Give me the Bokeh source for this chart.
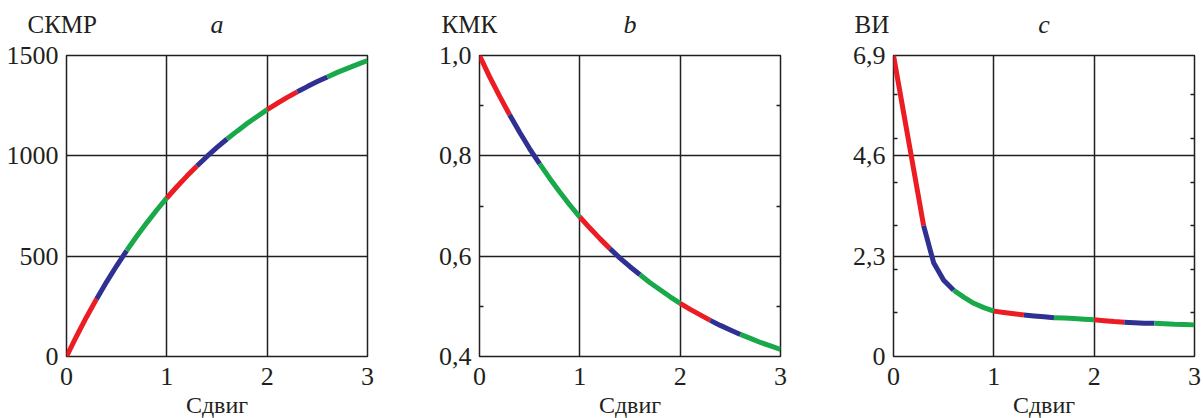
from bokeh.plotting import figure
from bokeh.layouts import row, column
from bokeh.models import FixedTicker, Range1d, Label, LinearAxis
from bokeh.embed import file_html
from bokeh.resources import INLINE

# ---- data ----
shift = [round(i * 0.1, 1) for i in range(31)]

ckmr = [0, 101, 197, 287, 372, 452, 528, 599, 666, 730,
        790, 846, 899, 949, 997, 1042, 1084, 1123, 1161, 1196,
        1230, 1261, 1291, 1319, 1345, 1370, 1393, 1416, 1436, 1456, 1475]

kmk = [1.000, 0.958, 0.919, 0.882, 0.847, 0.814, 0.784, 0.755, 0.728, 0.702,
       0.678, 0.656, 0.635, 0.615, 0.596, 0.579, 0.563, 0.547, 0.533, 0.519,
       0.506, 0.494, 0.483, 0.472, 0.462, 0.453, 0.444, 0.436, 0.428, 0.421, 0.414]

vi = [6.9, 5.6, 4.3, 3.0, 2.15, 1.75, 1.52, 1.36, 1.22, 1.12,
      1.04, 1.01, 0.98, 0.95, 0.93, 0.91, 0.89, 0.88, 0.87, 0.855,
      0.84, 0.82, 0.80, 0.785, 0.775, 0.765, 0.76, 0.75, 0.74, 0.735, 0.725]

segment_edges = [0.0, 0.3, 0.6, 1.0, 1.3, 1.6, 2.0, 2.3, 2.6, 3.0]
segment_colors = ["#ec1c24", "#2e3192", "#19a94a"] * 3

x_ticks = [0, 1, 2, 3]
x_tick_labels = ["0", "1", "2", "3"]

panels = [
    dict(letter="a", name="СКМР", y=ckmr, yr=(0, 1500),
         yticks=[0, 500, 1000, 1500], ylabels=["0", "500", "1000", "1500"], yminor=[]),
    dict(letter="b", name="КМК", y=kmk, yr=(0.4, 1.0),
         yticks=[0.4, 0.6, 0.8, 1.0], ylabels=["0,4", "0,6", "0,8", "1,0"], yminor=[0.5, 0.7, 0.9]),
    dict(letter="c", name="ВИ", y=vi, yr=(0, 6.9),
         yticks=[0, 2.3, 4.6, 6.9], ylabels=["0", "2,3", "4,6", "6,9"], yminor=[1, 2, 3, 4, 5, 6]),
]

FONT = "Liberation Serif"
INK = "#231f20"
FW = 301
STRIP_H = 40
TOP = 55
TEXT_Y = 16          # label anchor inside the strip (screen px from its bottom)
borders = [(66, 34), (78, 22), (91, 9)]
name_x = [27, 40, 52]   # left edge of the quantity name within each 401px column

strips = []
figs = []
for k, pn in enumerate(panels):
    bl, br = borders[k]
    colw = bl + FW + br
    y0, y1 = pn["yr"]

    # --- text strip above the panel ---
    s = figure(frame_width=colw, frame_height=STRIP_H, output_backend="svg", toolbar_location=None,
               x_axis_type=None, y_axis_type=None, min_border=0,
               x_range=Range1d(0, 1), y_range=Range1d(0, 1))
    s.outline_line_color = None
    s.grid.visible = False
    s.background_fill_color = "white"
    s.border_fill_color = "white"
    s.add_layout(Label(x=name_x[k], y=TEXT_Y, x_units="screen", y_units="screen",
                       text=pn["name"], text_font=FONT, text_font_size="25px",
                       text_color=INK, text_baseline="alphabetic", text_align="left"))
    s.add_layout(Label(x=bl + FW / 2, y=TEXT_Y, x_units="screen", y_units="screen",
                       text=pn["letter"], text_font=FONT, text_font_size="26px",
                       text_font_style="italic", text_color=INK,
                       text_baseline="alphabetic", text_align="center"))
    strips.append(s)

    # --- the panel itself ---
    p = figure(frame_width=FW, frame_height=FW, output_backend="svg", toolbar_location=None,
               x_range=Range1d(0, 3), y_range=Range1d(y0, y1),
               min_border_left=bl, min_border_right=br, min_border_top=TOP - STRIP_H,
               min_border_bottom=0)
    p.background_fill_color = "white"
    p.border_fill_color = "white"
    p.outline_line_color = INK
    p.outline_line_width = 1.5

    xt = FixedTicker(ticks=x_ticks)
    yt = FixedTicker(ticks=pn["yticks"], minor_ticks=pn["yminor"])
    p.xaxis.ticker = xt
    p.yaxis.ticker = yt
    p.xgrid.ticker = xt
    p.ygrid.ticker = yt
    for g in (p.xgrid, p.ygrid):
        g.grid_line_color = INK
        g.grid_line_width = 1.5

    p.xaxis.major_label_overrides = {t: l for t, l in zip(x_ticks, x_tick_labels)}
    p.yaxis.major_label_overrides = {t: l for t, l in zip(pn["yticks"], pn["ylabels"])}

    for ax in (p.xaxis[0], p.yaxis[0]):
        ax.axis_line_color = None
        ax.major_tick_in = 0
        ax.major_tick_out = 0
        ax.minor_tick_out = 0
        ax.minor_tick_in = 0
        ax.major_label_text_font = FONT
        ax.major_label_text_font_size = "26px"
        ax.major_label_text_color = INK
    p.yaxis.major_label_standoff = 8
    if pn["yminor"]:
        p.yaxis.minor_tick_in = 4
        p.yaxis.minor_tick_line_color = INK
        p.yaxis.minor_tick_line_width = 1.5
        rax = LinearAxis(ticker=yt, major_label_overrides={t: "" for t in pn["yticks"]})
        rax.axis_line_color = None
        rax.major_tick_in = 0
        rax.major_tick_out = 0
        rax.minor_tick_out = 0
        rax.minor_tick_in = 4
        rax.minor_tick_line_color = INK
        rax.minor_tick_line_width = 1.5
        rax.major_label_standoff = 0
        rax.major_label_text_font_size = "1px"
        p.add_layout(rax, "right")

    p.xaxis.major_label_standoff = 11
    p.xaxis.axis_label = "Сдвиг"
    p.xaxis.axis_label_text_font = FONT
    p.xaxis.axis_label_text_font_size = "24px"
    p.xaxis.axis_label_text_font_style = "normal"
    p.xaxis.axis_label_text_color = INK
    p.xaxis.axis_label_standoff = 4

    # coloured segments of the curve
    for i in range(len(segment_edges) - 1):
        lo, hi = segment_edges[i], segment_edges[i + 1]
        xs = [x for x in shift if lo - 1e-9 <= x <= hi + 1e-9]
        ys = [y for x, y in zip(shift, pn["y"]) if lo - 1e-9 <= x <= hi + 1e-9]
        p.line(xs, ys, line_color=segment_colors[i], line_width=5)

    figs.append(p)

layout = column(row(*strips, spacing=0), row(*figs, spacing=0), spacing=0)
open("out.html", "w").write(file_html(layout, INLINE))
